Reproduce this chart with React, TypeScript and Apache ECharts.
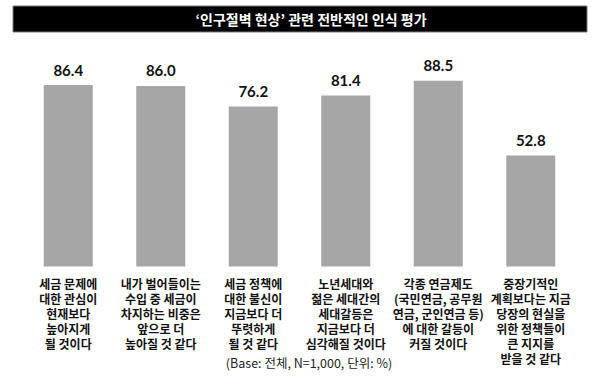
import React, { useEffect, useRef } from "react";
import * as echarts from "echarts";

const categories = [
  "세금 문제에\n대한 관심이\n현재보다\n높아지게\n될 것이다",
  "내가 벌어들이는\n수입 중 세금이\n차지하는 비중은\n앞으로 더\n높아질 것 같다",
  "세금 정책에\n대한 불신이\n지금보다 더\n뚜렷하게\n될 것 같다",
  "노년세대와\n젊은 세대간의\n세대갈등은\n지금보다 더\n심각해질 것이다",
  "각종 연금제도\n(국민연금, 공무원\n연금, 군인연금 등)\n에 대한 갈등이\n커질 것이다",
  "중장기적인\n계획보다는 지금\n당장의 현실을\n위한 정책들이\n큰 지지를\n받을 것 같다",
];
const values = [86.4, 86.0, 76.2, 81.4, 88.5, 52.8];
const titleText = "‘인구절벽 현상’ 관련 전반적인 인식 평가";
const noteText = "(Base: 전체, N=1,000, 단위: %)";

export default function App() {
  const ref = useRef<HTMLDivElement>(null);
  useEffect(() => {
    if (!ref.current) return;
    const chart = echarts.init(ref.current, null, { renderer: "svg" });
    chart.setOption({
      animation: false,
      backgroundColor: "#ffffff",
      graphic: [
        {
          type: "rect",
          shape: { x: 13, y: 6, width: 574, height: 26 },
          style: { fill: "#000000", stroke: "#7a7a7a", lineWidth: 1 },
          z: 1,
        },
        {
          type: "text",
          x: 311,
          y: 19,
          style: {
            text: titleText,
            fill: "#ffffff",
            font: "bold 14px 'Noto Sans CJK KR'",
            textAlign: "center",
            textVerticalAlign: "middle",
          },
          z: 2,
        },
        {
          type: "text",
          x: 309,
          y: 362,
          style: {
            text: noteText,
            fill: "#222222",
            font: "12.5px 'Noto Sans CJK KR'",
            textAlign: "center",
            textVerticalAlign: "middle",
          },
        },
      ],
      grid: { left: 22, right: 23, top: 56.5, bottom: 117.5, containLabel: false },
      xAxis: {
        type: "category",
        data: categories,
        axisLine: { show: false },
        axisTick: { show: false },
        axisLabel: {
          interval: 0,
          margin: 9,
          color: "#111111",
          fontFamily: "'Noto Sans CJK KR'",
          fontWeight: "bold",
          fontSize: 12,
          lineHeight: 15,
        },
      },
      yAxis: {
        type: "value",
        min: 0,
        max: 100,
        show: false,
        splitLine: { show: false },
      },
      series: [
        {
          type: "bar",
          data: values,
          barWidth: 49,
          itemStyle: { color: "#a6a6a6" },
          label: {
            show: true,
            position: "top",
            distance: 8,
            formatter: (p: any) => Number(p.value).toFixed(1),
            color: "#111111",
            fontFamily: "Lato, 'Open Sans', sans-serif",
            fontWeight: "bold",
            fontSize: 15,
          },
        },
      ],
    });
    return () => chart.dispose();
  }, []);
  return (
    <div
      ref={ref}
      style={{ position: "fixed", left: 0, top: 0, width: 600, height: 384 }}
    />
  );
}
